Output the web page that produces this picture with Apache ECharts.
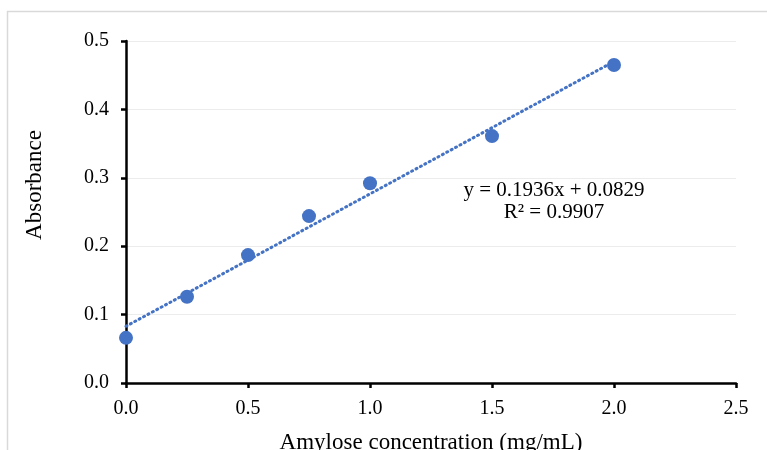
<!DOCTYPE html>
<html><head><meta charset="utf-8">
<script src="https://cdn.jsdelivr.net/npm/echarts@6/dist/echarts.min.js"></script>
<style>html,body{margin:0;padding:0;background:#fff}#c{width:767px;height:450px}</style>
</head><body><div id="c"></div>
<script>
const concentration = [0, 0.25, 0.5, 0.75, 1.0, 1.5, 2.0];
const absorbance = [0.066, 0.126, 0.187, 0.244, 0.292, 0.361, 0.465];
const trendX = [0, 2.0];
const trendY = [0.0829, 0.4701];
const equationText = ['y = 0.1936x + 0.0829', 'R² = 0.9907'];
const xTitle = 'Amylose concentration (mg/mL)';
const yTitle = 'Absorbance';

const font = '"Liberation Serif", "Times New Roman", serif';
const chart = echarts.init(document.getElementById('c'));
chart.setOption({
  animation: false,
  backgroundColor: '#fff',
  graphic: [
    {type: 'rect', shape: {x: 7.5, y: 11.5, width: 800, height: 500}, style: {fill: 'none', stroke: '#d9d9d9', lineWidth: 1.5}, silent: true, z: -1},
    {type: 'text', x: 554, y: 179, style: {text: equationText.join('\n'), font: '21px ' + font, fill: '#000', align: 'center', lineHeight: 22}},
    {type: 'text', x: 35, y: 185, rotation: Math.PI / 2, style: {text: yTitle, font: '23px ' + font, fill: '#000', align: 'center', verticalAlign: 'middle'}}
  ],
  grid: {left: 126, right: 31, top: 41, bottom: 67, containLabel: false, outerBoundsMode: 'none'},
  xAxis: {
    type: 'value', min: 0, max: 2.5, interval: 0.5,
    name: xTitle, nameLocation: 'middle', nameGap: 48,
    nameTextStyle: {fontFamily: font, fontSize: 23, color: '#000'},
    axisLine: {show: true, onZero: false, lineStyle: {color: '#000', width: 2.5}},
    axisTick: {show: true, length: 5, lineStyle: {color: '#000', width: 2.5}},
    axisLabel: {fontFamily: font, fontSize: 20, color: '#000', margin: 16, formatter: v => v.toFixed(1)},
    splitLine: {show: false}
  },
  yAxis: {
    type: 'value', min: 0, max: 0.5, interval: 0.1,
    axisLine: {show: true, onZero: false, lineStyle: {color: '#000', width: 2.5}},
    axisTick: {show: true, length: 5, lineStyle: {color: '#000', width: 2.5}},
    axisLabel: {fontFamily: font, fontSize: 20, color: '#000', margin: 17, formatter: v => v.toFixed(1)},
    splitLine: {show: true, lineStyle: {color: '#ececec', width: 1}}
  },
  series: [
    {type: 'line', data: trendX.map((x, i) => [x, trendY[i]]), symbol: 'none',
     lineStyle: {color: '#4472C4', width: 3, type: [1, 4], cap: 'round'}, z: 2},
    {type: 'scatter', data: concentration.map((x, i) => [x, absorbance[i]]), symbolSize: 14,
     itemStyle: {color: '#4472C4', opacity: 1}, z: 3}
  ]
});
</script></body></html>
